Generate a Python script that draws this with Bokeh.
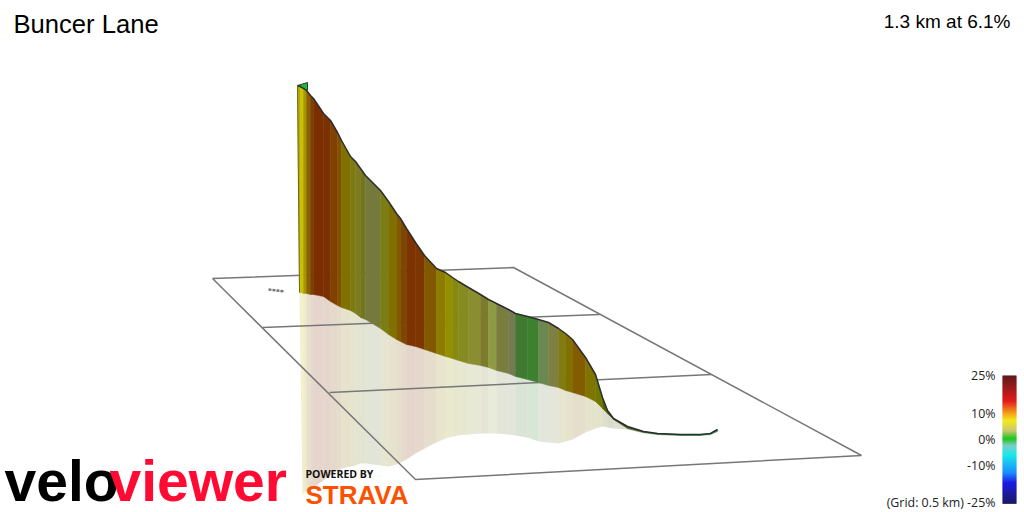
from bokeh.plotting import figure
from bokeh.embed import file_html
from bokeh.resources import INLINE
from bokeh.core.properties import value
import numpy as np

title = "Buncer Lane"
summary = "1.3 km at 6.1%"

station_x = [297,300,303,306,310,313,323,330,337,341,350,355,360,365,380,388,396,400,406,415,
             424,436,445,452,458,468,480,488,496,508,515,527,538,548,558,565,572,585,595,602,
             607,613,627,643,657,680,700,710,717]
ridge_y = [85,86,88,90,95,98,113,120,132,140,156,161,168,175,190,201,213,218,228,242,
           255,268,272,277,281,287,294,299,303,309,313,316,319,322,328,333,339,357,374,397,
           410,418,426,431,433,434,434,433,429]
foot_y = [292,292,293,293,294,294,296,301,305,307,310,313,317,319,328,334,339,341,344,346,
          349,353,356,358,360,363,365,367,370,373,376,379,382,385,387,390,392,396,401,408,
          413,419,428,432,434,435,435,434,431]
mirror_y = [495,494,492,491,489,487,480,475,470,468,466,465,463,463,465,466,464,462,459,453,
            448,442,438,436,435,434,433,433,433,434,435,437,441,442,443,441,439,432,428,426,
            427,428,429,433,434,435,435,434,431]
strip_colors = ["#b8a800","#c8c000","#a89800","#8a6000","#7a4000","#7c2e00","#7a3000","#7f4000","#835000","#807000",
                "#7c7a10","#7d7a20","#757520","#757a3c","#7d7d15","#807000","#7f5a00","#7c4800","#7c3300","#7c3600",
                "#825800","#8e7c00","#929000","#878810","#868a20","#8a8e30","#7c7a2c","#8f9a45","#7a7d40","#757a50",
                "#3f7a30","#3c8030","#6a8850","#7d8040","#807c10","#807000","#845c00","#807400","#707800","#586000",
                "#4a5000","#50601a","#406020","#208030","#208040","#108030","#20a040","#30a060"]

grid_x = [[212,513,861,415,212],[262,599],[329,711]]
grid_y = [[278,267,455,479,278],[327,314],[392,374]]

scale_pct = [25,15,11,7.4,3.5,0.3,-2.4,-6,-13,-17,-25]
scale_hex = ["#4a0000","#e00000","#f08000","#f0e800","#c8c060","#00c000","#70c8c0","#00e8e8","#0080ff","#0000e0","#000050"]
scale_ticks = [25,10,0,-10,-25]
scale_labels = ["25%","10%","0%","-10%","(Grid: 0.5 km) -25%"]

def rgb(h):
    return [int(h[i:i+2],16) for i in (1,3,5)]

p = figure(width=1024, height=512, x_range=(0,1024), y_range=(512,0),
           output_backend="svg", toolbar_location=None, min_border=0,
           outline_line_color=None, background_fill_color="white", border_fill_color="white")
p.axis.visible = False
p.grid.visible = False

n = len(station_x)
base_x = [299]+station_x[1:]
refl_x = [302,303]+station_x[2:]
wall_xs = [[station_x[i],station_x[i+1],base_x[i+1],base_x[i]] for i in range(n-1)]
wall_ys = [[ridge_y[i],ridge_y[i+1],foot_y[i+1],foot_y[i]] for i in range(n-1)]
refl_xs = [[base_x[i],base_x[i+1],refl_x[i+1],refl_x[i]] for i in range(n-1)]
refl_ys = [[foot_y[i],foot_y[i+1],mirror_y[i+1],mirror_y[i]] for i in range(n-1)]

p.patches(refl_xs, refl_ys, fill_color=strip_colors, fill_alpha=0.2, line_color=None)
p.multi_line(grid_x, grid_y, line_color="#777777", line_width=1.5)
p.line([268,284],[289,291], line_color="#777777", line_width=2.5, line_dash="3 1")
p.patches(wall_xs, wall_ys, fill_color=strip_colors, line_color=strip_colors, line_width=0.5)
p.patch([297,307,307],[85,82,90], fill_color="#10c030", line_color="#3a3a3a", line_width=1)
p.line(station_x, ridge_y, line_color="#2e2e2e", line_width=1.5)
p.line([297,base_x[0]],[ridge_y[0],foot_y[0]], line_color="#6a6a20", line_width=1)

pcts = np.linspace(25,-25,129)
cols = np.array([rgb(h) for h in scale_hex],dtype=float)
xp = scale_pct[::-1]
def col_at(v):
    return "#%02x%02x%02x" % tuple(int(np.interp(v,xp,cols[::-1,k])) for k in range(3))
to_y = lambda v: 439-(v*2.56)
p.quad(left=1002,right=1016,
       top=[to_y(a) for a in pcts[:-1]], bottom=[to_y(b)+0.3 for b in pcts[1:]],
       fill_color=[col_at((a+b)/2) for a,b in zip(pcts[:-1],pcts[1:])], line_color=None)
p.text([995]*5,[to_y(t) if t!=-25 else 502 for t in scale_ticks],text=scale_labels,
       text_align="right",text_baseline="middle",text_font=value("Open Sans"),
       text_font_size="12.4px",text_color="#222222")

p.text([13],[23],text=[title],text_font=value("Liberation Sans"),text_font_size="25.6px",
       text_color="#000000",text_baseline="middle")
p.text([1010],[21],text=[summary],text_align="right",text_font=value("Liberation Sans"),
       text_font_size="19px",text_color="#000000",text_baseline="middle")

p.text([4],[480],text=["velo"],text_font=value("Liberation Sans"),text_font_style="bold",
       text_font_size="57px",text_color="#000000",text_baseline="middle")
p.text([109],[480],text=["viewer"],text_font=value("Liberation Sans"),text_font_style="bold",
       text_font_size="57px",text_color="#ff0a33",text_baseline="middle")
p.text([305],[473],text=["POWERED BY"],text_font=value("Open Sans"),text_font_style="bold",
       text_font_size="10.5px",text_color="#111111",text_baseline="middle")
p.text([305],[494],text=["STRAVA"],text_font=value("Liberation Sans"),text_font_style="bold",
       text_font_size="26px",text_color="#fc5200",text_baseline="middle")

open("out.html","w").write(file_html(p, INLINE))
